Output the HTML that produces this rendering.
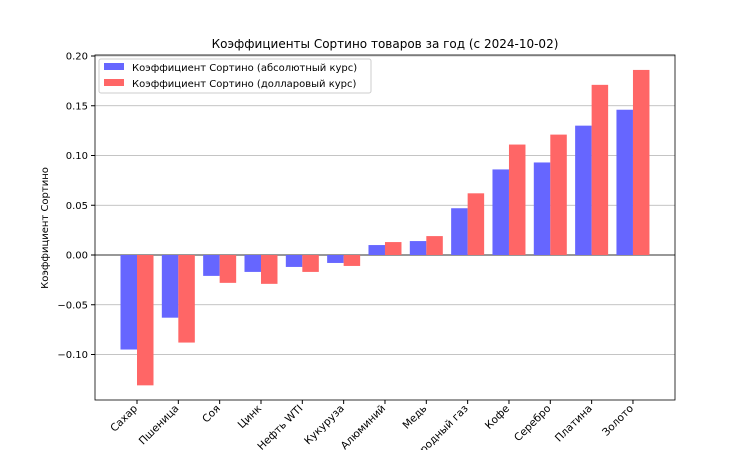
<!DOCTYPE html>
<html><head><meta charset="utf-8"><style>
body{margin:0;background:#fff}
svg{font-family:"DejaVu Sans","Liberation Sans",sans-serif}
</style></head><body>
<svg width="750" height="450">
<rect width="750" height="450" fill="#fff"/>
<text x="385" y="48" text-anchor="middle" font-size="12">Коэффициенты Сортино товаров за год (с 2024-10-02)</text>
<text transform="translate(48,228) rotate(-90)" text-anchor="middle" font-size="10">Коэффициент Сортино</text>
<g id="grid"></g><g id="bars"></g><g id="axes"></g>
<rect x="95" y="55" width="580" height="345" fill="none" stroke="#000" stroke-width="0.8"/>
<g>
<rect x="99" y="59" width="272" height="34" fill="#fff" stroke="#ccc" rx="2"/>
<rect x="104" y="63" width="20" height="7" fill="#6666ff"/>
<text x="132" y="71" font-size="10">Коэффициент Сортино (абсолютный курс)</text>
<rect x="104" y="79" width="20" height="7" fill="#ff6666"/>
<text x="132" y="87" font-size="10">Коэффициент Сортино (долларовый курс)</text>
</g>
</svg>
<script>
const categories=["Сахар","Пшеница","Соя","Цинк","Нефть WTI","Кукуруза","Алюминий","Медь","Природный газ","Кофе","Серебро","Платина","Золото"];
const absValues=[-0.095,-0.063,-0.021,-0.017,-0.012,-0.008,0.010,0.014,0.047,0.086,0.093,0.130,0.146];
const usdValues=[-0.131,-0.088,-0.028,-0.029,-0.017,-0.011,0.013,0.019,0.062,0.111,0.121,0.171,0.186];
const yTicks=[-0.10,-0.05,0.00,0.05,0.10,0.15,0.20];
const yTickLabels=["−0.10","−0.05","0.00","0.05","0.10","0.15","0.20"];
const NS="http://www.w3.org/2000/svg";
const y=v=>255-v*995;
const x=i=>137+i*41.33;
const bw=16.5;
function mk(t,a,p){const e=document.createElementNS(NS,t);for(const k in a)e.setAttribute(k,a[k]);p.appendChild(e);return e;}
const grid=document.getElementById('grid'),bars=document.getElementById('bars'),axes=document.getElementById('axes');
yTicks.forEach((v,i)=>{
 const g=mk('line',{x1:95,x2:675,y1:y(v),y2:y(v),stroke:'#b0b0b0','stroke-width':0.8},grid);
 
 
 mk('line',{x1:91,x2:95,y1:y(v),y2:y(v),stroke:'#000'},axes);
 const t=mk('text',{x:88,y:y(v)+3.5,'text-anchor':'end','font-size':10},axes);
 t.textContent=yTickLabels[i];
 
 
});
mk('line',{x1:95,x2:675,y1:y(0),y2:y(0),stroke:'#000','stroke-width':0.8},grid);
categories.forEach((c,i)=>{
 const a=absValues[i],u=usdValues[i];
 const b1=mk('rect',{x:x(i)-bw,y:Math.min(y(a),y(0)),width:bw,height:Math.abs(y(a)-y(0)),fill:'#6666ff'},bars);
 
 
 const b2=mk('rect',{x:x(i),y:Math.min(y(u),y(0)),width:bw,height:Math.abs(y(u)-y(0)),fill:'#ff6666'},bars);
 
 
 mk('line',{x1:x(i),x2:x(i),y1:400,y2:404,stroke:'#000'},axes);
 const t=mk('text',{x:0,y:0,'text-anchor':'end','font-size':10.5,transform:`translate(${x(i)+1},${409}) rotate(-45)`},axes);
 t.textContent=c;
 
 
});
</script>
</body></html>
